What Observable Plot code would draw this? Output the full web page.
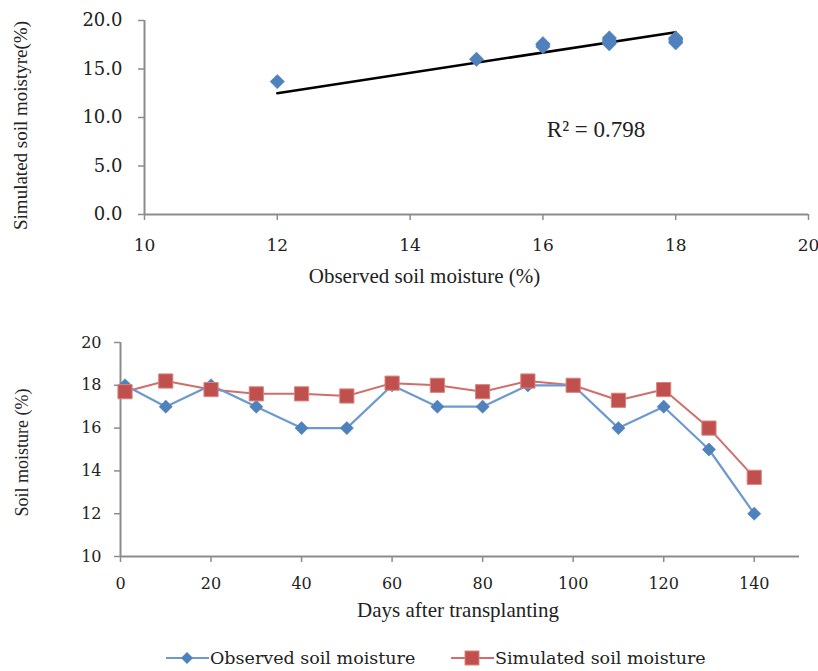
<!DOCTYPE html>
<html>
<head>
<meta charset="utf-8">
<script src="https://cdn.jsdelivr.net/npm/d3@7"></script>
<script src="https://cdn.jsdelivr.net/npm/@observablehq/plot@0.6"></script>
<style>
  html, body { margin: 0; padding: 0; background: #fff; }
  #wrap { position: relative; width: 818px; height: 671px; overflow: hidden; }
  #wrap svg.chart { position: absolute; left: 0; }
  g[aria-label="x-title"] text { letter-spacing: 1.5px; }
  g[aria-label="y-title"] text { letter-spacing: 0.4px; }
  g[aria-label="days-title"] text { letter-spacing: 0.7px; }
  g[aria-label="r2"] text { letter-spacing: 0.5px; }
  #legend { position: absolute; left: 0; top: 644px; width: 818px; height: 27px;
            font-family: "DejaVu Serif", serif; font-size: 17.5px; color: #222; }
  #legend .item { position: absolute; top: 0; display: flex; align-items: center; height: 27px; }
  #legend svg { display: block; }
</style>
</head>
<body>
<div id="wrap"></div>
<script>
// ---- data ----
const days = [1, 10, 20, 30, 40, 50, 60, 70, 80, 90, 100, 110, 120, 130, 140];
const observed = [18, 17, 18, 17, 16, 16, 18, 17, 17, 18, 18, 16, 17, 15, 12];
const simulated = [17.7, 18.2, 17.8, 17.6, 17.6, 17.5, 18.1, 18.0, 17.7, 18.2, 18.0, 17.3, 17.8, 16.0, 13.7];
const trendX = [12, 18];
const trendY = [12.5, 18.8];
const r2Label = "R² = 0.798";
const r2Pos = {x: 16.8, y: 8.7};
const scatterYTicks = [0, 5, 10, 15, 20];
const scatterXTicks = [10, 12, 14, 16, 18, 20];
const seriesYTicks = [10, 12, 14, 16, 18, 20];
const seriesXTicks = [0, 20, 40, 60, 80, 100, 120, 140];
const seriesNames = ["Observed soil moisture", "Simulated soil moisture"];

const BLUE = "#4F81BD", RED = "#C0504D", AXIS = "#8c8c8c", INK = "#222";
const pairs = observed.map((o, i) => ({obs: o, sim: simulated[i]}));
const trend = trendX.map((x, i) => ({x, y: trendY[i]}));
const obsRows = days.map((d, i) => ({day: d, v: observed[i]}));
const simRows = days.map((d, i) => ({day: d, v: simulated[i]}));

const wrap = document.getElementById("wrap");

// ---- top: scatter ----
const scatterChart = Plot.plot({
  width: 818, height: 300,
  marginLeft: 144, marginRight: 10, marginTop: 20, marginBottom: 86,
  x: {domain: [10, 20]},
  y: {domain: [0, 20]},
  style: {fontFamily: "DejaVu Serif", fontSize: "18px", color: INK, background: "white"},
  marks: [
    Plot.axisY({ticks: scatterYTicks, tickFormat: d3.format(".1f"), tickSize: 6, tickPadding: 16,
                stroke: AXIS, fill: INK, strokeWidth: 1.5, label: null}),
    Plot.axisX({ticks: scatterXTicks, tickSize: 6, tickPadding: 18, fontSize: 17,
                stroke: AXIS, fill: INK, strokeWidth: 1.5, label: null}),
    Plot.ruleX([10], {stroke: AXIS, strokeWidth: 2}),
    Plot.ruleY([0], {stroke: AXIS, strokeWidth: 2}),
    Plot.line(trend, {x: "x", y: "y", stroke: "black", strokeWidth: 2.5}),
    Plot.dot(pairs, {x: "obs", y: "sim", symbol: "diamond2", r: 6.5, fill: BLUE, stroke: BLUE, strokeWidth: 0.5}),
    Plot.text([r2Label], {x: [r2Pos.x], y: [r2Pos.y], text: d => d, ariaLabel: "r2",
                          fontFamily: "Liberation Serif", fontSize: 23, fill: INK}),
    Plot.text(["Observed soil moisture (%)"], {frameAnchor: "bottom", textAnchor: "middle", dx: -52, dy: 68,
               text: d => d, ariaLabel: "x-title", fontFamily: "Liberation Serif", fontSize: 21, fill: INK}),
    Plot.text(["Simulated soil moistyre(%)"], {frameAnchor: "left", textAnchor: "middle", dx: -124, dy: 8,
               rotate: -90, text: d => d, ariaLabel: "y-title", fontFamily: "Liberation Serif", fontSize: 19, fill: INK})
  ]
});
scatterChart.classList.add("chart");
scatterChart.style.top = "0px";
wrap.appendChild(scatterChart);

// ---- bottom: time series ----
const seriesChart = Plot.plot({
  width: 818, height: 340,
  marginLeft: 120, marginRight: 19, marginTop: 42, marginBottom: 84,
  x: {domain: [0, 150]},
  y: {domain: [10, 20]},
  style: {fontFamily: "DejaVu Serif", fontSize: "16px", color: INK, background: "white"},
  marks: [
    Plot.axisY({ticks: seriesYTicks, tickSize: 6, tickPadding: 13,
                stroke: AXIS, fill: INK, strokeWidth: 1.5, label: null}),
    Plot.axisX({ticks: seriesXTicks, tickSize: 6, tickPadding: 15,
                stroke: AXIS, fill: INK, strokeWidth: 1.5, label: null}),
    Plot.ruleX([0], {stroke: AXIS, strokeWidth: 2}),
    Plot.ruleY([10], {stroke: AXIS, strokeWidth: 2}),
    Plot.line(simRows, {x: "day", y: "v", stroke: "#D06E6B", strokeWidth: 2}),
    Plot.line(obsRows, {x: "day", y: "v", stroke: "#6C9AD0", strokeWidth: 2.2}),
    Plot.dot(obsRows, {x: "day", y: "v", symbol: "diamond2", r: 6, fill: BLUE, stroke: BLUE, strokeWidth: 0.5}),
    Plot.dot(simRows, {x: "day", y: "v", symbol: "square", r: 8, fill: RED, stroke: "#D8857F", strokeWidth: 1}),
    Plot.text(["Days after transplanting"], {frameAnchor: "bottom", textAnchor: "middle", dx: -2, dy: 60,
               text: d => d, ariaLabel: "days-title", fontFamily: "Liberation Serif", fontSize: 21, fill: INK}),
    Plot.text(["Soil moisture (%)"], {frameAnchor: "left", textAnchor: "middle", dx: -98, dy: 3, rotate: -90,
               text: d => d, fontFamily: "Liberation Serif", fontSize: 18, fill: INK})
  ]
});
seriesChart.classList.add("chart");
seriesChart.style.top = "300px";
wrap.appendChild(seriesChart);

// ---- legend ----
const legend = document.createElement("div");
legend.id = "legend";
const swatches = [
  {name: seriesNames[0], left: 166, line: "#6C9AD0", fill: BLUE, shape: "diamond"},
  {name: seriesNames[1], left: 451, line: "#D06E6B", fill: RED, shape: "square"}
];
for (const s of swatches) {
  const item = document.createElement("div");
  item.className = "item";
  item.style.left = s.left + "px";
  const mk = s.shape === "diamond"
    ? `<path d="M21,7 L27,13 L21,19 L15,13 Z" fill="${s.fill}"/>`
    : `<rect x="14" y="6" width="14" height="14" fill="${s.fill}" stroke="#D8857F"/>`;
  item.innerHTML = `<svg width="43" height="26"><line x1="0" y1="13" x2="43" y2="13" stroke="${s.line}" stroke-width="2.2"/>${mk}</svg><span style="margin-left:1px">${s.name}</span>`;
  legend.appendChild(item);
}
wrap.appendChild(legend);
</script>
</body>
</html>
